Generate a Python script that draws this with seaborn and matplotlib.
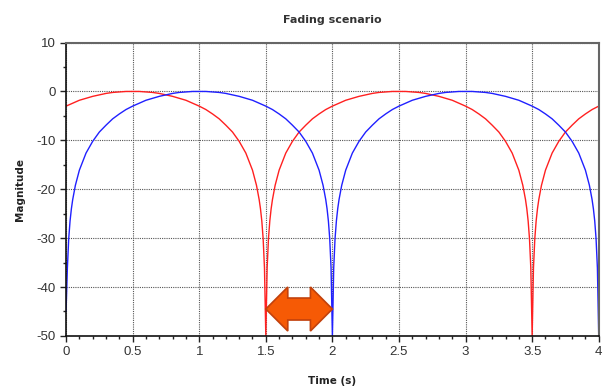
import numpy as np
import pandas as pd
import matplotlib
matplotlib.use("Agg")
import matplotlib.pyplot as plt
import seaborn as sns
from matplotlib.patches import Polygon

# Time samples (s) and magnitude (dB)
blue_t = [0, 0.01, 0.02, 0.03, 0.04, 0.05, 0.07,
          0.1, 0.15, 0.2, 0.25, 0.3, 0.35, 0.4, 0.45, 0.5, 0.55, 0.6, 0.65, 0.7, 0.75, 0.8, 0.85, 0.9, 0.95,
          1.0, 1.05, 1.1, 1.15, 1.2, 1.25, 1.3, 1.35, 1.4, 1.45, 1.5, 1.55, 1.6, 1.65, 1.7, 1.75, 1.8, 1.85, 1.9,
          1.93, 1.95, 1.96, 1.97, 1.98, 1.99, 2.0,
          2.01, 2.02, 2.03, 2.04, 2.05, 2.07,
          2.1, 2.15, 2.2, 2.25, 2.3, 2.35, 2.4, 2.45, 2.5, 2.55, 2.6, 2.65, 2.7, 2.75, 2.8, 2.85, 2.9, 2.95,
          3.0, 3.05, 3.1, 3.15, 3.2, 3.25, 3.3, 3.35, 3.4, 3.45, 3.5, 3.55, 3.6, 3.65, 3.7, 3.75, 3.8, 3.85, 3.9,
          3.93, 3.95, 3.96, 3.97, 3.98, 3.99, 4.0]
blue_db = [-45, -36.1, -30.1, -26.5, -24.0, -22.1, -19.2,
           -16.1, -12.6, -10.2, -8.3, -6.9, -5.6, -4.6, -3.7, -3.0, -2.4, -1.8, -1.4, -1.0, -0.7, -0.4, -0.2, -0.1, 0.0,
           0.0, 0.0, -0.1, -0.2, -0.4, -0.7, -1.0, -1.4, -1.8, -2.4, -3.0, -3.7, -4.6, -5.6, -6.9, -8.3, -10.2, -12.6, -16.1,
           -19.2, -22.1, -24.0, -26.5, -30.1, -36.1, -50,
           -36.1, -30.1, -26.5, -24.0, -22.1, -19.2,
           -16.1, -12.6, -10.2, -8.3, -6.9, -5.6, -4.6, -3.7, -3.0, -2.4, -1.8, -1.4, -1.0, -0.7, -0.4, -0.2, -0.1, 0.0,
           0.0, 0.0, -0.1, -0.2, -0.4, -0.7, -1.0, -1.4, -1.8, -2.4, -3.0, -3.7, -4.6, -5.6, -6.9, -8.3, -10.2, -12.6, -16.1,
           -19.2, -22.1, -24.0, -26.5, -30.1, -36.1, -50]

red_t = [0, 0.05, 0.1, 0.15, 0.2, 0.25, 0.3, 0.35, 0.4, 0.45, 0.5, 0.55, 0.6, 0.65, 0.7, 0.75, 0.8, 0.85, 0.9, 0.95,
         1.0, 1.05, 1.1, 1.15, 1.2, 1.25, 1.3, 1.35, 1.4,
         1.43, 1.45, 1.46, 1.47, 1.48, 1.49, 1.5, 1.51, 1.52, 1.53, 1.54, 1.55, 1.57,
         1.6, 1.65, 1.7, 1.75, 1.8, 1.85, 1.9, 1.95, 2.0, 2.05, 2.1, 2.15, 2.2, 2.25, 2.3, 2.35, 2.4, 2.45,
         2.5, 2.55, 2.6, 2.65, 2.7, 2.75, 2.8, 2.85, 2.9, 2.95, 3.0, 3.05, 3.1, 3.15, 3.2, 3.25, 3.3, 3.35, 3.4,
         3.43, 3.45, 3.46, 3.47, 3.48, 3.49, 3.5, 3.51, 3.52, 3.53, 3.54, 3.55, 3.57,
         3.6, 3.65, 3.7, 3.75, 3.8, 3.85, 3.9, 3.95, 4.0]
red_db = [-3.0, -2.4, -1.8, -1.4, -1.0, -0.7, -0.4, -0.2, -0.1, 0.0, 0.0, 0.0, -0.1, -0.2, -0.4, -0.7, -1.0, -1.4, -1.8, -2.4,
          -3.0, -3.7, -4.6, -5.6, -6.9, -8.3, -10.2, -12.6, -16.1,
          -19.2, -22.1, -24.0, -26.5, -30.1, -36.1, -50, -36.1, -30.1, -26.5, -24.0, -22.1, -19.2,
          -16.1, -12.6, -10.2, -8.3, -6.9, -5.6, -4.6, -3.7, -3.0, -2.4, -1.8, -1.4, -1.0, -0.7, -0.4, -0.2, -0.1, 0.0,
          0.0, 0.0, -0.1, -0.2, -0.4, -0.7, -1.0, -1.4, -1.8, -2.4, -3.0, -3.7, -4.6, -5.6, -6.9, -8.3, -10.2, -12.6, -16.1,
          -19.2, -22.1, -24.0, -26.5, -30.1, -36.1, -50, -36.1, -30.1, -26.5, -24.0, -22.1, -19.2,
          -16.1, -12.6, -10.2, -8.3, -6.9, -5.6, -4.6, -3.7, -3.0]

x_ticks = [0, 0.5, 1, 1.5, 2, 2.5, 3, 3.5, 4]
x_labels = ["0", "0.5", "1", "1.5", "2", "2.5", "3", "3.5", "4"]
y_ticks = [-50, -40, -30, -20, -10, 0, 10]
y_labels = ["-50", "-40", "-30", "-20", "-10", "0", "10"]

# annotation: delay between the two nulls
arrow_from, arrow_to, arrow_level = 1.5, 2.0, -44.5

blue = pd.DataFrame({"t": blue_t, "db": blue_db})
red = pd.DataFrame({"t": red_t, "db": red_db})

sns.set_style("white")
plt.rcParams["axes.unicode_minus"] = False
fig = plt.figure(figsize=(6.06, 3.87), dpi=100)
ax = fig.add_axes([0.109, 0.132, 0.879, 0.758])

sns.lineplot(data=red, x="t", y="db", color="#ff2020", linewidth=1.0, ax=ax, estimator=None, sort=False)
sns.lineplot(data=blue, x="t", y="db", color="#2020ff", linewidth=1.0, ax=ax, estimator=None, sort=False)

ax.set_xlim(0, 4)
ax.set_ylim(-50, 10)
ax.set_xticks(x_ticks)
ax.set_xticklabels(x_labels)
ax.set_yticks(y_ticks)
ax.set_yticklabels(y_labels)
ax.set_xticks(np.arange(0, 4.01, 0.1), minor=True)
ax.set_yticks(np.arange(-50, 10.1, 5), minor=True)
ax.grid(True, which="major", linestyle=(0, (1, 1)), color="#555555", linewidth=0.8)
ax.tick_params(which="major", direction="out", length=4, width=1, colors="#222222",
               labelsize=9.5, labelcolor="#333333", bottom=True, left=True)
ax.tick_params(which="minor", direction="out", length=2, width=1, colors="#222222", bottom=True, left=True)
for lab in ax.get_xticklabels() + ax.get_yticklabels():
    lab.set_family("Liberation Sans")

for side in ["left", "bottom"]:
    ax.spines[side].set_color("#111111")
    ax.spines[side].set_linewidth(1.2)
for side in ["top", "right"]:
    ax.spines[side].set_color("#666666")
    ax.spines[side].set_linewidth(1.5)

ax.set_title("Fading scenario", fontsize=8, fontweight="bold", color="#333333", pad=14)
ax.set_xlabel("Time (s)", fontsize=7.5, fontweight="bold", color="#222222", labelpad=12.5)
ax.set_ylabel("Magnitude", fontsize=7.5, fontweight="bold", color="#222222", labelpad=8)

# double-headed orange arrow between 1.5 s and 2 s
head = 0.165
hw, sw = 4.5, 2.25
pts = [(arrow_from, arrow_level),
       (arrow_from + head, arrow_level + hw),
       (arrow_from + head, arrow_level + sw),
       (arrow_to - head, arrow_level + sw),
       (arrow_to - head, arrow_level + hw),
       (arrow_to, arrow_level),
       (arrow_to - head, arrow_level - hw),
       (arrow_to - head, arrow_level - sw),
       (arrow_from + head, arrow_level - sw),
       (arrow_from + head, arrow_level - hw)]
ax.add_patch(Polygon(pts, closed=True, facecolor="#f65a05", edgecolor="#c2410c", linewidth=1.2, zorder=5))

fig.savefig("out.png", dpi=100)
